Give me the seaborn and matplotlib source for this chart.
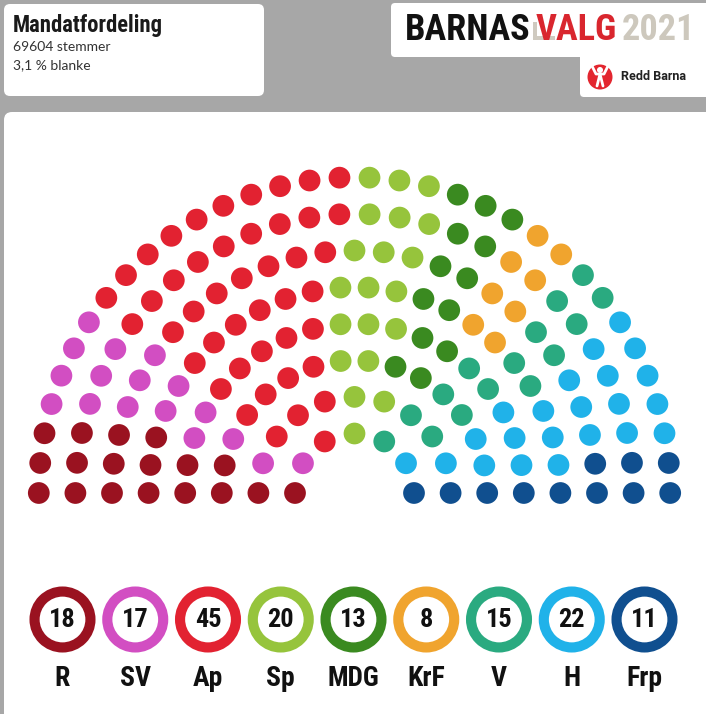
import numpy as np
import pandas as pd
import seaborn as sns
import matplotlib.pyplot as plt
import matplotlib.patheffects as pe
from matplotlib import font_manager
from matplotlib.patches import FancyBboxPatch, Circle, Rectangle

# Mandatfordeling, Barnas valg 2021
partier = ['R', 'SV', 'Ap', 'Sp', 'MDG', 'KrF', 'V', 'H', 'Frp']
mandater = [18, 17, 45, 20, 13, 8, 15, 22, 11]
farger = ['#9a1220', '#d24ec2', '#e22231', '#96c43c', '#3a8a20',
          '#f0a42e', '#2aaa80', '#20b2e9', '#104f8f']
stemmer = 69604
blanke = '3,1'

# seats of each party on each ring of the hemicycle, inner ring first
ring_R = [1, 1, 2, 2, 3, 3, 3, 3]
ring_SV = [1, 1, 1, 2, 2, 3, 3, 4]
ring_Ap = [1, 3, 4, 5, 6, 7, 9, 10]
ring_Sp = [1, 2, 2, 3, 3, 3, 3, 3]
ring_MDG = [0, 0, 2, 2, 2, 2, 2, 3]
ring_KrF = [0, 0, 0, 0, 2, 2, 2, 2]
ring_V = [1, 2, 2, 2, 2, 2, 2, 2]
ring_H = [1, 1, 2, 3, 3, 3, 4, 5]
ring_Frp = [1, 1, 1, 1, 1, 2, 2, 2]
ring_fordeling = [ring_R, ring_SV, ring_Ap, ring_Sp, ring_MDG,
                  ring_KrF, ring_V, ring_H, ring_Frp]

W, H = 706, 714
grey = '#a7a7a7'


def weight_num(w):
    if isinstance(w, str):
        return font_manager.weight_dict.get(w, 400)
    return w


def pick_condensed():
    # narrowest family we can find, preferably with a bold face
    entries = font_manager.fontManager.ttflist
    cands = ['Oswald', 'Roboto Condensed', 'Liberation Sans Narrow',
             'Archivo Narrow', 'PT Sans Narrow', 'Open Sans Condensed']
    found = None
    for cand in cands:
        weights = [weight_num(f.weight) for f in entries if f.name == cand]
        if weights and max(weights) >= 600:
            return cand, False
        if weights and found is None:
            found = cand
    if found:
        return found, True
    return 'Roboto', False


def hemicycle(ring_fordeling, cx, cy, r0, dr):
    rows = []
    per_ring = np.array(ring_fordeling).T
    for i, counts in enumerate(per_ring):
        n = counts.sum()
        r = r0 + dr * i
        parti = np.repeat(partier, counts)
        for k in range(n):
            t = np.pi * k / (n - 1)
            rows.append((parti[k], cx - r * np.cos(t), cy - r * np.sin(t)))
    return pd.DataFrame(rows, columns=['parti', 'x', 'y'])


def fit_text(ax, x, y, s, max_w, size, **kw):
    t = ax.text(x, y, s, fontsize=size, **kw)
    w = t.get_window_extent(renderer=fig.canvas.get_renderer()).width
    if w > max_w:
        t.set_fontsize(size * max_w / w)
    return t


def heavy(color, lw=1.0):
    # thicken strokes when the condensed family has no bold face
    if fake_bold:
        return [pe.withStroke(linewidth=lw, foreground=color)]
    return []


sns.set_theme(style='white')
cond, fake_bold = pick_condensed()

fig = plt.figure(figsize=(W / 100, H / 100), dpi=100)
fig.patch.set_facecolor(grey)
ax = fig.add_axes([0, 0, 1, 1])
ax.set_facecolor(grey)
ax.set_xlim(0, W)
ax.set_ylim(H, 0)

# white boxes
ax.add_patch(FancyBboxPatch((4, 4), 260, 92, boxstyle='round,pad=0,rounding_size=6',
                            fc='white', ec='none'))
ax.add_patch(FancyBboxPatch((391, 3), 330, 54, boxstyle='round,pad=0,rounding_size=4',
                            fc='white', ec='none'))
ax.add_patch(FancyBboxPatch((580, 40), 140, 57, boxstyle='round,pad=0,rounding_size=4',
                            fc='white', ec='none'))
ax.add_patch(FancyBboxPatch((4, 112), 720, 620, boxstyle='round,pad=0,rounding_size=8',
                            fc='white', ec='none'))

# header text
fit_text(ax, 13, 32, 'Mandatfordeling', 150, 20, family=cond, fontweight='bold',
         color='#1a1a1a', va='baseline', path_effects=heavy('#1a1a1a', 1.2))
ax.text(13, 51, f'{stemmer} stemmer', family='Lato', fontsize=10, color='#333333',
        va='baseline')
ax.text(13, 69, f'{blanke} % blanke', family='Lato', fontsize=10, color='#333333',
        va='baseline')

# logo: BARNAS VALG 2021
rend = fig.canvas.get_renderer()
logo = [('BARNAS', '#111111'), ('VALG', '#d9262e'), ('2021', '#cdc8bd')]
size = 28
widths = []
for word, _ in logo:
    t = ax.text(0, 0, word, family=cond, fontweight='bold', fontsize=size)
    widths.append(t.get_window_extent(renderer=rend).width)
    t.remove()
gap = 5
scale = min(1.0, (290 - 2 * gap) / sum(widths))
xpos = 405
starts = []
for w in widths:
    starts.append(xpos)
    xpos += w * scale + gap
# grey ballot-box corner behind the V
ax.add_patch(Rectangle((starts[1] - 3, 36), 22, 4, fc='#cfcac0', ec='none'))
ax.add_patch(Rectangle((starts[1] - 3, 22), 4, 18, fc='#cfcac0', ec='none'))
for (word, col), x0 in zip(logo, starts):
    ax.text(x0, 40, word, family=cond, fontweight='bold', fontsize=size * scale,
            color=col, va='baseline', path_effects=heavy(col, 1.4))

# Redd Barna
ax.add_patch(Circle((600, 77), 12.5, fc='#e3262f', ec='none'))
ax.add_patch(Circle((600, 70), 3, fc='white', ec='none'))
ax.plot([592, 596, 600, 604, 608], [66, 74, 74, 74, 66], color='white', lw=2,
        solid_capstyle='round')
ax.plot([600, 597], [74, 86], color='white', lw=2, solid_capstyle='round')
ax.plot([600, 603], [74, 86], color='white', lw=2, solid_capstyle='round')
fit_text(ax, 621, 77, 'Redd Barna', 74, 9, family=['Roboto', 'DejaVu Sans'],
         fontweight='bold', color='#222222', va='center')

# hemicycle
seats = hemicycle(ring_fordeling, cx=354.5, cy=493, r0=59.5, dr=36.6)
palette = dict(zip(partier, farger))
sns.scatterplot(data=seats, x='x', y='y', hue='parti', palette=palette,
                s=245, linewidth=0, legend=False, ax=ax)

# party rings at the bottom
bunn = pd.DataFrame({'parti': partier, 'mandater': mandater,
                     'x': 62.5 + 72.75 * np.arange(len(partier))})
sns.scatterplot(data=bunn, x='x', y=619.5, hue='parti', palette=palette, s=1620,
                linewidth=7.3, legend=False, ax=ax)
ax.collections[-1].set_facecolor('white')
ax.collections[-1].set_edgecolor([palette[p] for p in partier])
for _, row in bunn.iterrows():
    fit_text(ax, row['x'], 620, str(row['mandater']), 28, 19, family=cond,
             fontweight='bold', color='#111111', ha='center', va='center',
             path_effects=heavy('#111111', 1.2))
    fit_text(ax, row['x'], 679, row['parti'], 52, 20, family=cond,
             fontweight='bold', color='#111111', ha='center', va='center',
             path_effects=heavy('#111111', 1.2))

ax.set_xlim(0, W)
ax.set_ylim(H, 0)
ax.axis('off')
fig.savefig('out.png', dpi=100, facecolor=fig.get_facecolor())
